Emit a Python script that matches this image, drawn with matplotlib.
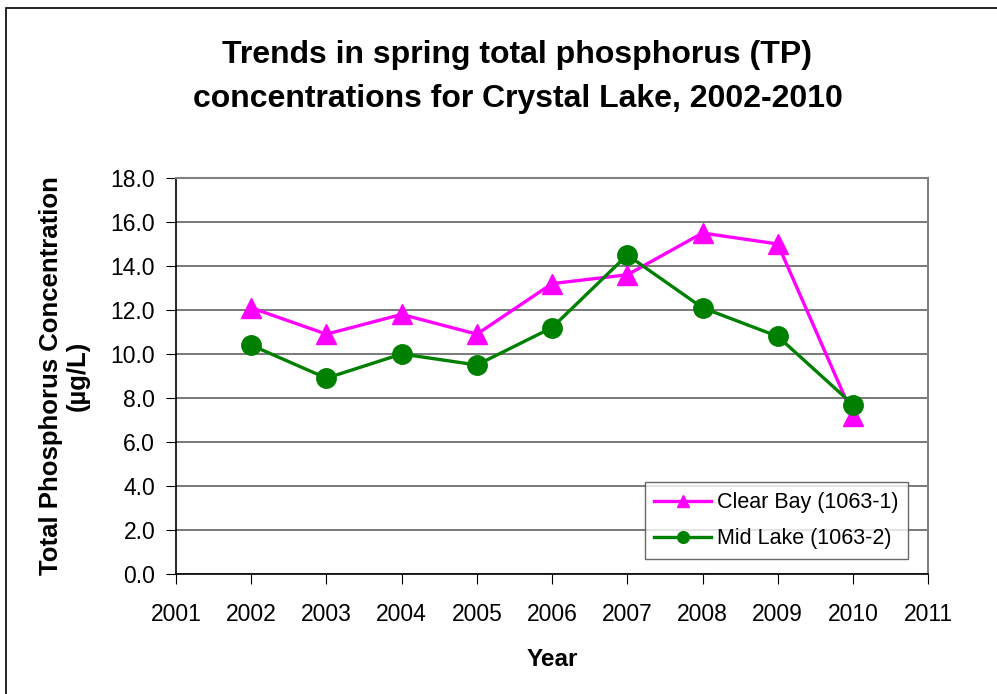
import matplotlib.pyplot as plt
from matplotlib.patches import Rectangle

years = [2002, 2003, 2004, 2005, 2006, 2007, 2008, 2009, 2010]
clear_bay = [12.1, 10.9, 11.8, 10.9, 13.2, 13.6, 15.5, 15.0, 7.2]
mid_lake = [10.4, 8.9, 10.0, 9.5, 11.2, 14.5, 12.1, 10.8, 7.7]
y_ticks = [0, 2, 4, 6, 8, 10, 12, 14, 16, 18]
x_ticks = list(range(2001, 2012))

plt.rcParams['font.family'] = ['Liberation Sans', 'DejaVu Sans']

fig = plt.figure(figsize=(9.97, 6.94), dpi=100)
ax = fig.add_axes([0.1765, 0.173, 0.7545, 0.5705])

# moldura em volta do gráfico
fig.patches.append(Rectangle((0.006, -0.01), 1.2, 0.998, transform=fig.transFigure,
                             fill=False, edgecolor='black', linewidth=1.2))

ax.plot(years, clear_bay, color='#FF00FF', linewidth=2.4, marker='^', markersize=15,
        label='Clear Bay (1063-1)', zorder=3)
ax.plot(years, mid_lake, color='#008000', linewidth=2.4, marker='o', markersize=14,
        label='Mid Lake (1063-2)', zorder=4)

ax.set_xlim(2001, 2011)
ax.set_ylim(0, 18)
ax.set_xticks(x_ticks)
ax.set_yticks(y_ticks)
ax.set_yticklabels([f'{v:.1f}' for v in y_ticks])
ax.tick_params(axis='both', labelsize=16.5, direction='out', length=7, color='black')
ax.tick_params(axis='x', pad=14)
ax.tick_params(axis='y', pad=8)

ax.grid(True, axis='y', color='#555555', linewidth=1.1)
ax.set_axisbelow(True)
for s in ['top', 'right']:
    ax.spines[s].set_color('#808080')
    ax.spines[s].set_linewidth(1.5)
for s in ['left', 'bottom']:
    ax.spines[s].set_color('black')
    ax.spines[s].set_linewidth(1.2)

ax.set_xlabel('Year', fontsize=17.5, fontweight='bold', labelpad=16)
ax.set_ylabel('Total Phosphorus Concentration\n(µg/L)', fontsize=18.5, fontweight='bold',
              labelpad=15, linespacing=1.15)

fig.text(0.519, 0.942, 'Trends in spring total phosphorus (TP)\nconcentrations for Crystal Lake, 2002-2010',
         ha='center', va='top', fontsize=23, fontweight='bold', linespacing=1.6)

leg = ax.legend(loc='lower right', bbox_to_anchor=(0.973, 0.038), borderaxespad=0,
                fontsize=15.5, markerscale=0.6, frameon=True, fancybox=False,
                edgecolor='#444444', handlelength=2.65, borderpad=0.45,
                labelspacing=0.7, handletextpad=0.25)
leg.get_frame().set_linewidth(1.0)

fig.savefig('out.png', dpi=100)
